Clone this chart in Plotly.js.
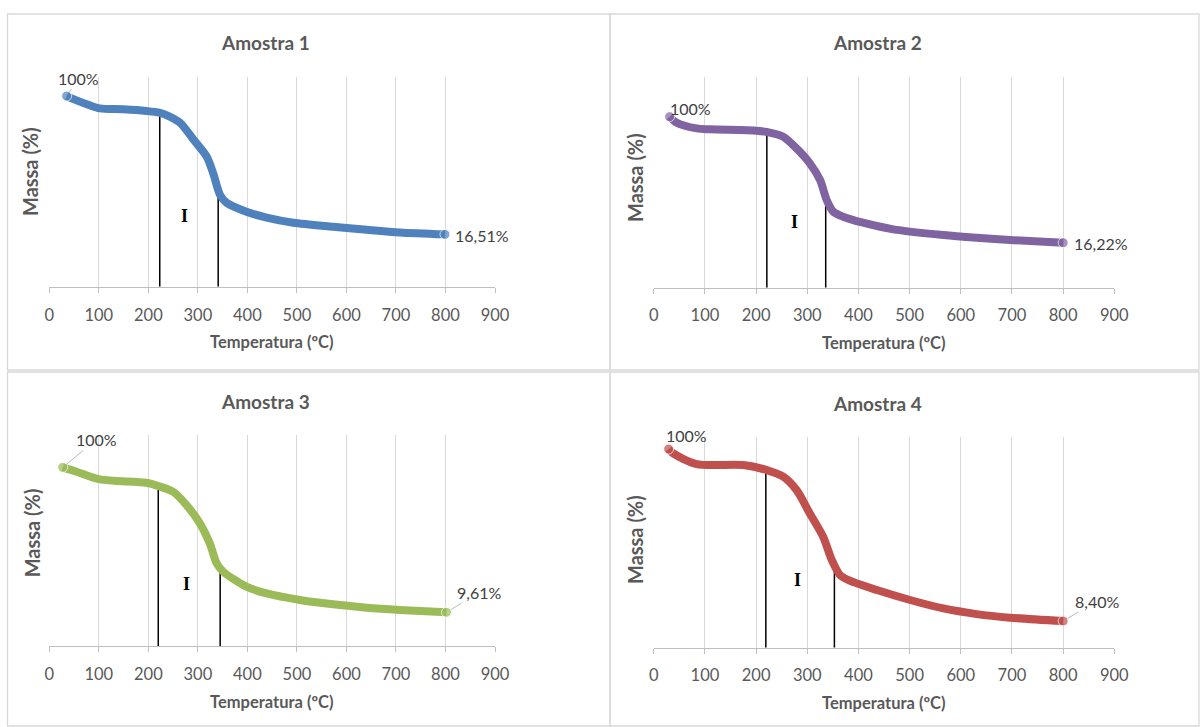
<!DOCTYPE html>
<html>
<head>
<meta charset="utf-8">
<script src="https://cdn.plot.ly/plotly-3.0.1.min.js"></script>
<style>html,body{margin:0;padding:0;background:#fff;}#chart{width:1200px;height:727px;}</style>
</head>
<body>
<div id="chart"></div>
<script>
// ---- Data ----
const titles = ["Amostra 1", "Amostra 2", "Amostra 3", "Amostra 4"];
const xTitle = "Temperatura (ºC)";
const yTitle = "Massa (%)";
const xTicks = [0, 100, 200, 300, 400, 500, 600, 700, 800, 900];

const temp1 = [35, 50, 80, 102, 150, 196, 222, 240, 264, 291, 318, 331, 345, 358, 398, 439, 493, 573, 641, 708, 799];
const mass1 = [100, 98.0, 94.6, 92.6, 92.0, 91.0, 90.0, 88.1, 83.9, 73.8, 63.4, 53.3, 40.2, 35.6, 30.2, 26.6, 23.5, 21.1, 19.3, 17.7, 16.51];

const temp2 = [31, 45, 84, 110, 201, 221, 253, 279, 305, 325, 338, 351, 370, 409, 468, 566, 631, 696, 800];
const mass2 = [100, 96.0, 92.2, 91.6, 90.7, 89.8, 86.7, 78.9, 69.0, 57.9, 44.6, 36.8, 33.5, 29.5, 25.1, 21.3, 19.5, 18.0, 16.22];

const temp3 = [27, 55, 102, 196, 220, 250, 277, 304, 324, 338, 351, 398, 439, 506, 573, 641, 708, 802];
const mass3 = [100, 97.3, 92.5, 90.4, 88.4, 84.8, 76.5, 65.1, 52.6, 40.1, 35.0, 25.6, 21.4, 17.3, 14.6, 12.5, 11.1, 9.61];

const temp4 = [29, 38, 84, 175, 221, 253, 279, 305, 331, 348, 364, 383, 436, 501, 566, 631, 696, 800];
const mass4 = [100, 97.7, 92.0, 91.5, 88.8, 85.3, 78.2, 65.7, 53.3, 40.9, 32.9, 29.9, 24.9, 19.6, 15.1, 12.1, 10.2, 8.40];

// Stage "I" boundary lines (temperature, mass where they meet the curve)
const stageT1 = [223, 341], stageTop1 = [90.0, 43.3];
const stageT2 = [221, 336], stageTop2 = [89.8, 46.5];
const stageT3 = [220, 345], stageTop3 = [88.4, 37.4];
const stageT4 = [219, 353], stageTop4 = [89.0, 38.9];
const stageLabel = "I";
const stageLabelT = [273, 275, 276, 281];
const stageLabelM = [27.6, 30.2, 27.3, 30.2];

const startLabels = ["100%", "100%", "100%", "100%"];
const endLabels = ["16,51%", "16,22%", "9,61%", "8,40%"];

// ---- Styling / layout ----
const colors = ["#4f81bd", "#8064a2", "#9bbb59", "#c0504d"];
const yRanges = [[-15.1, 111.7], [-13.7, 126.6], [-11.4, 120.2], [-5.8, 106.6]];
const xDomains = [[0.0411, 0.4125], [0.5448, 0.9286], [0.0411, 0.4125], [0.5448, 0.9286]];
const yDomains = [[0.6056, 0.8945], [0.6043, 0.8945], [0.1114, 0.4017], [0.1091, 0.3993]];

const temps = [temp1, temp2, temp3, temp4];
const masses = [mass1, mass2, mass3, mass4];
const stageTs = [stageT1, stageT2, stageT3, stageT4];
const stageTops = [stageTop1, stageTop2, stageTop3, stageTop4];

const FONT = "Lato, 'Open Sans', sans-serif";
const GREY = "#595959";

const traces = [];
const layout = {
  width: 1200, height: 727,
  margin: {l: 0, r: 0, t: 0, b: 0},
  paper_bgcolor: "#ffffff", plot_bgcolor: "rgba(0,0,0,0)",
  showlegend: false,
  annotations: [], shapes: []
};

// panel frames (pixel positions converted to paper)
const frames = [[7.5, 14, 610, 370], [610, 14, 1199, 370], [7.5, 372, 610, 726], [610, 372, 1199, 726]];
frames.forEach(f => {
  layout.shapes.push({type: "rect", xref: "paper", yref: "paper",
    x0: f[0] / 1200, x1: f[2] / 1200, y0: 1 - f[3] / 727, y1: 1 - f[1] / 727,
    line: {color: "#d9d9d9", width: 1.3}, fillcolor: "rgba(0,0,0,0)", layer: "below"});
});

// title / axis-title positions in pixels
const titlePos = [[265.7, 42.3], [877.7, 42.7], [265.7, 401], [877.7, 403.3]];
const xTitlePos = [[272, 342.3], [884.3, 343.3], [272, 702.3], [884.3, 703.3]];
const yTitlePos = [[29.3, 171.7], [635, 178], [32.3, 533], [635.7, 539.3]];
// label offsets (px) for start and end labels
const startOff = [[12, -18, true], [21, -8, false], [34, -28, true], [18, -14, false]];
const endOff = [[37, 1, false], [38, 1, false], [33, -20, true], [34, -20, true]];

for (let i = 0; i < 4; i++) {
  const k = i === 0 ? "" : String(i + 1);
  const xa = "x" + k, ya = "y" + k;
  layout["xaxis" + k] = {
    domain: xDomains[i], anchor: ya, range: [0, 900],
    tickvals: xTicks, ticktext: xTicks.map(String),
    showgrid: true, gridcolor: "#d9d9d9", gridwidth: 1,
    showline: true, linecolor: "#bfbfbf", linewidth: 1,
    ticks: "outside", ticklen: 5, tickcolor: "#bfbfbf",
    ticklabelstandoff: 8,
    tickfont: {family: FONT, size: 16.5, color: GREY},
    zeroline: false, fixedrange: true
  };
  layout["yaxis" + k] = {
    domain: yDomains[i], anchor: xa, range: yRanges[i],
    showgrid: false, showticklabels: false, showline: false,
    zeroline: false, ticks: "", fixedrange: true
  };

  // stage boundary lines
  stageTs[i].forEach((t, j) => {
    traces.push({x: [t, t], y: [yRanges[i][0], stageTops[i][j]], xaxis: xa, yaxis: ya,
      mode: "lines", line: {color: "#000000", width: 1.5}, hoverinfo: "skip"});
  });

  // TGA curve
  const n = temps[i].length;
  traces.push({
    x: temps[i], y: masses[i], xaxis: xa, yaxis: ya,
    mode: "lines+markers",
    line: {color: colors[i], width: 8, shape: "spline", smoothing: 0.8},
    marker: {color: colors[i], size: temps[i].map((_, j) => (j === 0 || j === n - 1) ? 10 : 0)},
    hoverinfo: "x+y"
  });

  // stage label "I"
  layout.annotations.push({x: stageLabelT[i], y: stageLabelM[i], xref: xa, yref: ya,
    text: "<b>" + stageLabel + "</b>", showarrow: false,
    font: {family: "'Liberation Serif', 'Times New Roman', serif", size: 18, color: "#000"}});

  // start label
  const so = startOff[i];
  const startAnn = {x: temps[i][0], y: masses[i][0], xref: xa, yref: ya,
    text: startLabels[i], font: {family: FONT, size: 16, color: "#404040"}};
  if (so[2]) {
    Object.assign(startAnn, {showarrow: true, ax: so[0], ay: so[1], arrowhead: 0,
      arrowwidth: 0.8, arrowcolor: "#a6a6a6", standoff: 4});
  } else {
    Object.assign(startAnn, {showarrow: false, xshift: so[0], yshift: -so[1]});
  }
  layout.annotations.push(startAnn);

  // end label
  const eo = endOff[i];
  const endAnn = {x: temps[i][n - 1], y: masses[i][n - 1], xref: xa, yref: ya,
    text: endLabels[i], font: {family: FONT, size: 16, color: "#404040"}};
  if (eo[2]) {
    Object.assign(endAnn, {showarrow: true, ax: eo[0], ay: eo[1], arrowhead: 0,
      arrowwidth: 0.8, arrowcolor: "#a6a6a6", standoff: 5});
  } else {
    Object.assign(endAnn, {showarrow: false, xshift: eo[0], yshift: -eo[1]});
  }
  layout.annotations.push(endAnn);

  // chart title
  layout.annotations.push({x: titlePos[i][0] / 1200, y: 1 - titlePos[i][1] / 727, xref: "paper", yref: "paper",
    text: "<b>" + titles[i] + "</b>", showarrow: false, xanchor: "center", yanchor: "middle",
    font: {family: FONT, size: 19, color: GREY}});
  // x title
  layout.annotations.push({x: xTitlePos[i][0] / 1200, y: 1 - xTitlePos[i][1] / 727, xref: "paper", yref: "paper",
    text: "<b>" + xTitle + "</b>", showarrow: false, xanchor: "center", yanchor: "middle",
    font: {family: FONT, size: 16.5, color: GREY}});
  // y title
  layout.annotations.push({x: yTitlePos[i][0] / 1200, y: 1 - yTitlePos[i][1] / 727, xref: "paper", yref: "paper",
    text: "<b>" + yTitle + "</b>", showarrow: false, xanchor: "center", yanchor: "middle", textangle: -90,
    font: {family: FONT, size: 20, color: GREY}});
}

Plotly.newPlot("chart", traces, layout, {displayModeBar: false, staticPlot: true});
</script>
</body>
</html>
